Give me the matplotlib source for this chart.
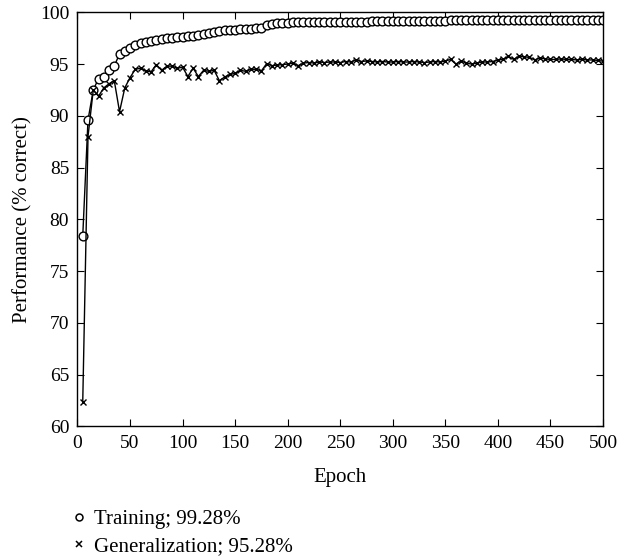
import matplotlib
matplotlib.use("Agg")
import matplotlib.pyplot as plt
from matplotlib.lines import Line2D

plt.rcParams['font.family'] = ['Liberation Serif', 'DejaVu Serif']

epochs = list(range(5, 505, 5))

training = [
    78.4, 89.6, 92.5, 93.6, 93.8, 94.4, 94.8, 96.0, 96.3, 96.6,
    96.8, 97.0, 97.15, 97.25, 97.35, 97.45, 97.5, 97.55, 97.6, 97.65,
    97.7, 97.75, 97.8, 97.9, 98.0, 98.1, 98.2, 98.25, 98.3, 98.3,
    98.35, 98.35, 98.4, 98.45, 98.5, 98.75, 98.9, 98.95, 99.0, 99.0,
    99.05, 99.05, 99.05, 99.05, 99.1, 99.1, 99.1, 99.1, 99.1, 99.1,
    99.1, 99.1, 99.1, 99.1, 99.1, 99.12, 99.12, 99.12, 99.15, 99.15,
    99.15, 99.17, 99.17, 99.18, 99.18, 99.2, 99.2, 99.2, 99.2, 99.2,
    99.26, 99.27, 99.27, 99.27, 99.27, 99.28, 99.28, 99.28, 99.28, 99.28,
    99.28, 99.28, 99.28, 99.28, 99.28, 99.28, 99.28, 99.28, 99.28, 99.28,
    99.28, 99.28, 99.28, 99.28, 99.28, 99.28, 99.28, 99.28, 99.28, 99.28,
]

generalization = [
    62.4, 88.0, 92.5, 91.9, 92.7, 93.1, 93.4, 90.4, 92.7, 93.7,
    94.5, 94.6, 94.35, 94.25, 94.95, 94.4, 94.8, 94.8, 94.6, 94.7,
    93.8, 94.6, 93.8, 94.4, 94.3, 94.4, 93.4, 93.75, 94.0, 94.1,
    94.4, 94.3, 94.5, 94.5, 94.35, 95.05, 94.85, 94.9, 94.95, 95.0,
    95.1, 94.85, 95.1, 95.15, 95.1, 95.2, 95.15, 95.2, 95.2, 95.15,
    95.25, 95.2, 95.4, 95.25, 95.3, 95.25, 95.2, 95.25, 95.2, 95.2,
    95.25, 95.2, 95.2, 95.25, 95.2, 95.15, 95.2, 95.25, 95.2, 95.3,
    95.45, 95.0, 95.3, 95.1, 95.0, 95.1, 95.2, 95.2, 95.25, 95.4,
    95.45, 95.75, 95.45, 95.75, 95.7, 95.65, 95.4, 95.6, 95.5, 95.45,
    95.45, 95.5, 95.45, 95.45, 95.4, 95.45, 95.4, 95.4, 95.35, 95.28,
]

legend_labels = ["Training; 99.28%", "Generalization; 95.28%"]
x_ticks = list(range(0, 501, 50))
y_ticks = list(range(60, 101, 5))

fig = plt.figure(figsize=(6.29, 5.6), dpi=100)
ax = fig.add_axes([0.1232, 0.2384, 0.9587 - 0.1232, 0.978 - 0.2384])

ax.plot(epochs, training, color='black', lw=1.0, marker='o', markersize=6.3,
        markerfacecolor='white', markeredgecolor='black', markeredgewidth=1.0)
ax.plot(epochs, generalization, color='black', lw=1.0, marker='x', markersize=4.8,
        markeredgewidth=1.0)

ax.set_xlim(0, 500)
ax.set_ylim(60, 100)
ax.set_xticks(x_ticks)
ax.set_yticks(y_ticks)
ax.tick_params(direction='in', top=True, right=True, length=5, width=0.8,
               labelsize=14, pad=6)
for s in ax.spines.values():
    s.set_linewidth(1.0)

ax.set_xlabel("Epoch", fontsize=15, labelpad=12)
ax.set_ylabel("Performance (% correct)", fontsize=15, labelpad=5)

handles = [
    Line2D([], [], linestyle='none', marker='o', markersize=5,
           markerfacecolor='white', markeredgecolor='black', markeredgewidth=1.1),
    Line2D([], [], linestyle='none', marker='x', markersize=3.8,
           markeredgecolor='black', markeredgewidth=1.1),
]
fig.legend(handles, legend_labels, loc='upper left', bbox_to_anchor=(0.118, 0.09),
           frameon=False, fontsize=15, handlelength=0.5, handletextpad=0.45,
           labelspacing=0.35, borderpad=0, borderaxespad=0)

fig.savefig("out.png", dpi=100)
